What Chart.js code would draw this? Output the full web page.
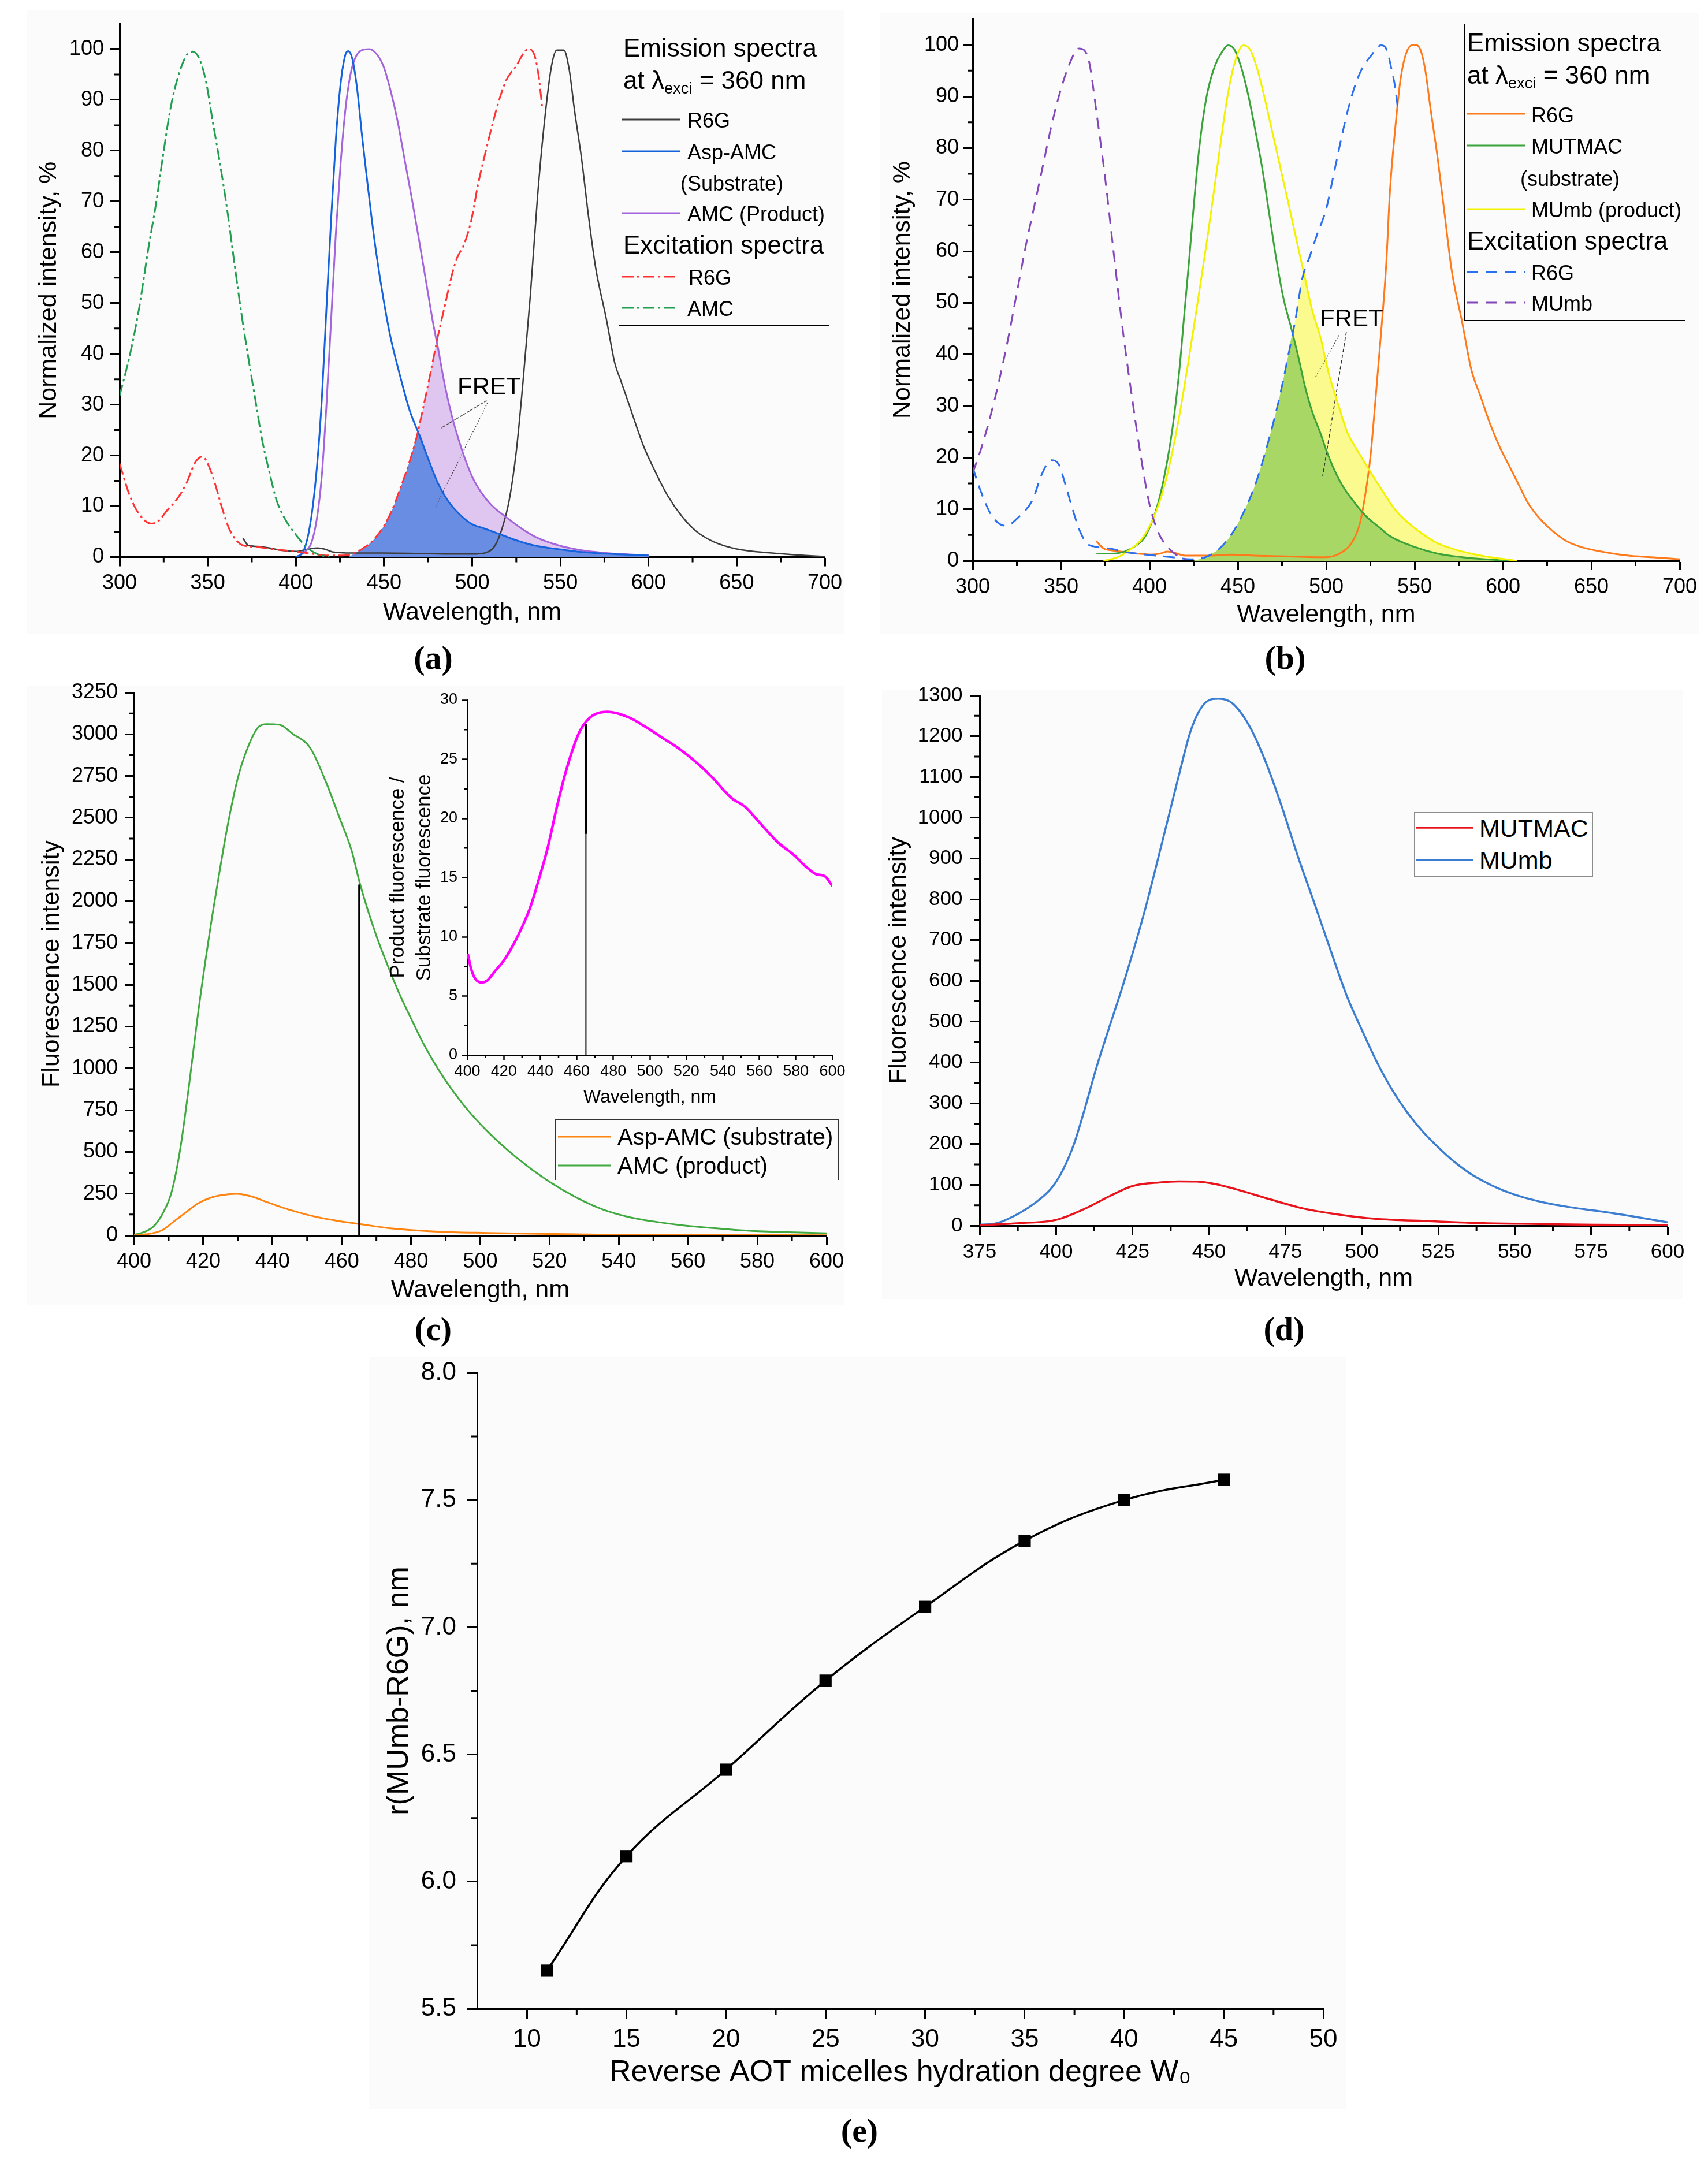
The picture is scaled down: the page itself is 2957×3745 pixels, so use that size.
<!DOCTYPE html>
<html lang="en">
<head>
<meta charset="UTF-8">
<title>FRET spectra and MUmb-R6G distance</title>
<script src="https://cdn.jsdelivr.net/npm/chart.js"></script>
<style>
  body { margin: 0; width: 2957px; height: 3745px; position: relative; overflow: hidden; background: #fff;
         font-family: "Liberation Sans", Arial, sans-serif; color: #000; }
  .bg { position: absolute; background: #fcfbfb; }
  .box { position: absolute; }
  .box canvas { display: block; }
  .txt { position: absolute; white-space: nowrap; line-height: 1; transform: translateY(-50%); }
  .txt sub { font-size: 0.62em; vertical-align: -0.3em; }
  .lbl { position: absolute; white-space: nowrap; line-height: 1; transform: translate(-50%, -50%);
         font-family: "Liberation Serif", "DejaVu Serif", serif; font-weight: bold; font-size: 58px; }
  .rule { position: absolute; background: #000; }
  .frame { position: absolute; box-sizing: border-box; }
  svg.smp { position: absolute; overflow: visible; }
</style>
</head>
<body>

<div class="bg" style="left:47px;top:18px;width:1414px;height:1080px"></div>
<div class="bg" style="left:1523px;top:22px;width:1418px;height:1076px"></div>
<div class="bg" style="left:47px;top:1187px;width:1414px;height:1073px"></div>
<div class="bg" style="left:1527px;top:1195px;width:1387px;height:1054px"></div>
<div class="bg" style="left:638px;top:2350px;width:1693px;height:1302px"></div>

<div class="box" id="boxA"><canvas id="chartA"></canvas></div>
<div class="box" id="boxB"><canvas id="chartB"></canvas></div>
<div class="box" id="boxC"><canvas id="chartC"></canvas></div>
<div class="box" id="boxCi"><canvas id="chartCi"></canvas></div>
<div class="box" id="boxD"><canvas id="chartD"></canvas></div>
<div class="box" id="boxE"><canvas id="chartE"></canvas></div>

<script>
// ---------- tick values ----------
const specTicksX = [300, 350, 400, 450, 500, 550, 600, 650, 700];
const specTicksY = [0, 10, 20, 30, 40, 50, 60, 70, 80, 90, 100];
const cTicksX = [400, 420, 440, 460, 480, 500, 520, 540, 560, 580, 600];
const cTicksY = [0, 250, 500, 750, 1000, 1250, 1500, 1750, 2000, 2250, 2500, 2750, 3000, 3250];
const ciTicksY = [0, 5, 10, 15, 20, 25, 30];
const dTicksX = [375, 400, 425, 450, 475, 500, 525, 550, 575, 600];
const dTicksY = [0, 100, 200, 300, 400, 500, 600, 700, 800, 900, 1000, 1100, 1200, 1300];
const eTicksX = [10, 15, 20, 25, 30, 35, 40, 45, 50];
const eTicksY = [5.5, 6.0, 6.5, 7.0, 7.5, 8.0];

// ---------- (a) Asp-AMC / AMC / R6G ----------
const aR6GemX = [370, 373, 378, 385, 392, 400, 406, 412, 416, 421, 432, 450, 470, 490, 500, 507, 513, 517, 521, 525, 529, 533, 537, 541, 545, 548, 552, 555, 558, 562, 566, 570, 576, 581, 584, 589, 597, 603, 611, 619, 627, 637, 650, 670, 685, 700];
const aR6GemY = [3.7, 2.3, 2.1, 1.8, 1.3, 1.1, 1.5, 1.8, 1.6, 1.0, 0.8, 0.8, 0.7, 0.6, 0.6, 0.8, 2.3, 5.7, 11.2, 20.8, 35.2, 51.6, 70.7, 85.8, 96.7, 99.8, 99.8, 96, 88, 78.5, 67, 57, 47, 38, 35, 30, 22, 17.4, 12, 8, 5.1, 3, 1.6, 0.8, 0.4, 0.1];
const aAspX = [400, 404, 406.6, 409.3, 412, 414.7, 417.3, 420, 422.7, 425.4, 428, 429.7, 432, 434.8, 437.5, 440.2, 443, 445.6, 449.6, 453.6, 459, 464.4, 469.8, 475, 480.5, 486, 492.6, 499.3, 507, 515, 525, 535, 550, 562, 580, 600];
const aAspY = [0, 1, 3.7, 9.2, 18, 31, 48.8, 66.6, 82.4, 93.3, 98.8, 99.6, 98.1, 92, 83, 74.8, 66.6, 59.8, 50.9, 43.4, 35.8, 29, 24.2, 19.4, 14.6, 11.2, 8.5, 6.6, 5.6, 4.6, 3.3, 2.3, 1.5, 1, 0.6, 0.3];
const aAmcX = [400, 405, 409, 412, 414.7, 417.3, 420, 422.7, 425.4, 428, 430.8, 433.5, 437.5, 441.5, 445.6, 449.6, 453.6, 457.7, 461.7, 465.7, 469.8, 473.8, 477.8, 480.5, 484.5, 488.6, 492.6, 496.6, 500.7, 505, 511, 519.5, 527.6, 535.7, 549, 562.6, 576, 589.5, 600];
const aAmcY = [0, 1, 3, 7.8, 16, 29.7, 46.8, 63.9, 77.6, 87.8, 94.7, 98.1, 99.8, 100, 99.1, 96.7, 92, 85.8, 78.2, 70.7, 62.5, 54.3, 46.1, 41.3, 33.8, 27.6, 22.8, 18.7, 15.3, 12.8, 10.2, 7.8, 5.7, 4, 2.3, 1.3, 0.8, 0.5, 0.3];
const aExcR6GX = [300, 306, 311, 318, 322, 327, 333, 338, 343, 347, 350, 354, 358, 362, 366, 370, 378, 386, 394, 402, 410, 418, 426, 432, 437.5, 443, 448, 453.6, 459, 464.4, 468.4, 472.4, 476.5, 480.5, 484.5, 488.6, 491.3, 495.3, 499.3, 503.4, 507.4, 511.4, 515.5, 519.5, 525, 529, 531.6, 535, 537.7, 539.7];
const aExcR6GY = [18.4, 11.9, 8.5, 6.6, 7.1, 9.2, 11.6, 14.6, 18.7, 19.8, 18.4, 14.6, 9.8, 5.7, 3.4, 2.3, 2.0, 1.6, 1.3, 1.0, 0.6, 0.3, 0.3, 0.6, 1.6, 3, 5.1, 8.5, 13.3, 18.7, 23.5, 29.7, 36.5, 43.4, 49.5, 55.7, 58.8, 61.5, 66, 73.5, 79.5, 85.1, 90.2, 94, 96.7, 99.1, 100, 99.1, 94.7, 88.5];
const aExcAmcX = [300, 306, 311, 316.5, 320.6, 324.6, 328.6, 332.7, 338, 341.4, 344.8, 348.8, 352.8, 356.9, 360.9, 364.9, 369, 373, 377, 381, 385, 389, 394.5, 400, 405, 412, 419];
const aExcAmcY = [31.7, 40, 48.8, 61.1, 69.4, 78.9, 87.8, 94, 98.8, 99.5, 98.4, 94, 85.8, 77.6, 68.7, 58.4, 48.2, 39.3, 31, 22.8, 16.7, 11.2, 7.1, 4.4, 2.3, 0.6, 0];
// FRET overlap areas
const aFretBlueX = [430, 437.5, 443, 448, 453.6, 459, 464.4, 468.4, 469.5, 475, 480.5, 486, 492.6, 499.3, 507, 515, 525, 535, 550, 562, 580, 600];
const aFretBlueY = [0, 1.6, 3, 5.1, 8.5, 13.3, 18.7, 23.5, 24.4, 19.4, 14.6, 11.2, 8.5, 6.6, 5.6, 4.6, 3.3, 2.3, 1.5, 1, 0.6, 0.3];
const aFretPurpleX = [430, 437.5, 443, 448, 453.6, 459, 464.4, 468.4, 472.4, 476.5, 480.2, 484.5, 488.6, 492.6, 496.6, 500.7, 505, 511, 519.5, 527.6, 535.7, 549, 562.6, 576, 589.5, 600];
const aFretPurpleY = [0, 1.6, 3, 5.1, 8.5, 13.3, 18.7, 23.5, 29.7, 36.5, 42, 33.8, 27.6, 22.8, 18.7, 15.3, 12.8, 10.2, 7.8, 5.7, 4, 2.3, 1.3, 0.8, 0.5, 0.3];
const aLead1X = [508.2, 482.4], aLead1Y = [30.8, 25.4];
const aLead2X = [508.7, 479.3], aLead2Y = [30.4, 9.9];

// ---------- (b) MUTMAC / MUmb / R6G ----------
const bR6GX = [370, 374, 379, 386, 393, 401, 406, 410, 414, 420, 433, 446, 460, 473, 500, 509, 515, 519, 522, 525, 528, 531, 534, 536, 539, 542, 546, 550, 553, 556, 559, 563, 567, 571, 577, 582, 587.5, 593, 598, 604, 609, 614, 620, 628, 636, 644, 657, 671, 684, 700];
const bR6GY = [3.8, 2.4, 2, 1.7, 1.4, 1.2, 1.4, 1.8, 1.6, 1, 1, 1.2, 1, 0.9, 0.7, 1.7, 3.8, 7.2, 12.6, 20.1, 31.7, 44, 57.7, 71.3, 83.6, 93.2, 99, 100, 99.3, 95.2, 87.7, 78.2, 67.2, 56.3, 46.1, 37.2, 31.7, 26.3, 22.2, 18.1, 14.7, 11.3, 8.5, 5.8, 3.8, 2.7, 1.7, 1, 0.7, 0.3];
const bMutX = [370, 379, 386, 393, 397, 401, 405, 409, 413, 417, 419.6, 422.3, 425, 427.6, 430.3, 433, 437, 441, 444.4, 447.7, 451.7, 455.8, 459.8, 463.8, 467.8, 471.8, 475.8, 480, 484, 488, 492, 497, 500, 504, 509, 516, 523, 530, 536, 550, 563, 577, 590, 604];
const bMutY = [1.4, 1.4, 1.8, 3.1, 4.4, 7.2, 11.3, 17.4, 25.6, 37.2, 47.4, 57.7, 68.6, 78.2, 85.7, 91.1, 95.9, 98.6, 99.9, 99.3, 95.9, 90.4, 83.6, 76.1, 67.2, 58.4, 50.9, 45.4, 39.9, 33.8, 29, 24.5, 21.5, 18.1, 14.7, 11.3, 8.5, 6.5, 4.8, 2.7, 1.4, 0.7, 0.3, 0];
const bMumbX = [374, 382, 390, 395.4, 400.8, 406.2, 411.5, 417, 422.3, 427.6, 433, 438.3, 443.7, 447.7, 453.1, 457.1, 461.1, 465.1, 469.2, 473.2, 478.6, 483.9, 487.9, 491.9, 497, 501.3, 506.7, 512, 517.5, 524, 531, 539, 547, 555, 563, 571, 582, 593, 604, 608];
const bMumbY = [0, 0.7, 2.4, 4.1, 7.2, 11.9, 18.8, 28.3, 39.2, 50.9, 63.1, 76.1, 89.1, 95.9, 99.9, 99, 95.2, 89.8, 83.6, 77.5, 69.3, 61.1, 54.9, 48.8, 43, 36.5, 30.4, 24.9, 21.5, 17.8, 14, 9.9, 7.2, 5.1, 3.4, 2.4, 1.4, 0.7, 0.2, 0];
const bExcR6GX = [300, 304, 310, 315, 319, 326, 334, 339, 344.5, 348.5, 352.5, 356.6, 360.6, 364.6, 370, 379, 386, 393, 403.5, 413, 423.6, 431.6, 439.7, 446.4, 453, 459.8, 466.5, 473.2, 478.6, 482.6, 486.6, 490.7, 494.7, 500, 504, 508, 512, 516, 520, 525.6, 531, 534.3, 537, 539, 540.4];
const bExcR6GY = [18.1, 14, 9.2, 7.2, 6.8, 8.5, 11.9, 16.7, 19.5, 18.8, 14.7, 9.9, 5.8, 3.4, 2.7, 2.3, 1.7, 1.4, 1, 0.7, 0.3, 0.7, 2.4, 5.1, 9.2, 14.7, 22.2, 31.1, 39.9, 46.8, 54.9, 59, 63.1, 68.2, 74.5, 81, 87, 91.8, 95.2, 98, 99.9, 99, 95.2, 91.8, 88];
const bExcMumbX = [300, 305, 310, 315, 320, 325, 330, 335, 340, 345, 350, 355, 360, 363, 366, 370, 375, 380, 385, 390, 395, 400, 405, 410, 415, 420];
const bExcMumbY = [17, 22, 28, 35, 43, 52, 61, 69, 77, 85, 91.5, 96.5, 99.3, 99, 96.5, 87, 74, 59, 44.5, 32, 20.5, 11, 5.5, 2.8, 1.2, 0.3];
const bFretGreenX = [425, 431.6, 439.7, 446.4, 453, 459.8, 466.5, 473.2, 478.6, 480.7, 484, 488, 492, 497, 500, 504, 509, 516, 523, 530, 536, 550, 563, 577, 590, 604];
const bFretGreenY = [0, 0.7, 2.4, 5.1, 9.2, 14.7, 22.2, 31.1, 39.9, 43.5, 39.9, 33.8, 29, 24.5, 21.5, 18.1, 14.7, 11.3, 8.5, 6.5, 4.8, 2.7, 1.4, 0.7, 0.3, 0];
const bFretYellowX = [425, 431.6, 439.7, 446.4, 453, 459.8, 466.5, 473.2, 478.6, 482.6, 486.6, 487.3, 491.9, 497, 501.3, 506.7, 512, 517.5, 524, 531, 539, 547, 555, 563, 571, 582, 593, 604, 608];
const bFretYellowY = [0, 0.7, 2.4, 5.1, 9.2, 14.7, 22.2, 31.1, 39.9, 46.8, 54.9, 55.8, 48.8, 43, 36.5, 30.4, 24.9, 21.5, 17.8, 14, 9.9, 7.2, 5.1, 3.4, 2.4, 1.4, 0.7, 0.2, 0];
const bLead1X = [507.2, 493.8], bLead1Y = [43.7, 35.5];
const bLead2X = [511.4, 498], bLead2Y = [44.4, 16.4];

// ---------- (c) Asp-AMC vs AMC, inset ratio ----------
const cProdX = [400, 403, 405.6, 408.2, 410.8, 413.3, 415.9, 418.5, 421.9, 424.4, 427, 430, 432.1, 435.6, 438.1, 442, 445.8, 450.9, 455.2, 459.5, 462.9, 465.2, 469.7, 473.2, 476.6, 480, 483.4, 489.4, 495.4, 502.2, 510.8, 519.3, 527.9, 535.4, 543.3, 551.2, 559.1, 567.1, 575, 582.9, 590.8, 600];
const cProdY = [4, 21, 53, 128, 256, 511, 900, 1330, 1820, 2140, 2450, 2740, 2880, 3035, 3061, 3057, 3003, 2918, 2726, 2492, 2300, 2109, 1811, 1619, 1448, 1299, 1155, 945, 775, 620, 460, 330, 225, 155, 108, 80, 59, 44, 31, 23, 18, 13];
const cSubX = [400, 404.8, 408.2, 411.6, 415, 418.5, 421.9, 425.3, 429.6, 433.8, 438.1, 442.4, 447.5, 452.6, 459.5, 465.2, 472.3, 480, 489.4, 502.2, 519.3, 533.7, 550, 575, 600];
const cSubY = [0, 11, 32, 85, 138, 192, 224, 241, 249, 234, 202, 170, 138, 111, 85, 68, 47, 32, 21, 15, 9, 5, 4, 2, 1];
const cRatioX = [400.3, 402, 404.4, 407.6, 410.9, 414.9, 419.8, 424.6, 429.5, 434.4, 439.2, 444.1, 448.9, 453.8, 458.7, 461.9, 465.2, 470, 477, 489, 498, 507, 516, 525, 534, 541, 545, 552, 561, 570, 579, 585, 591, 596, 600];
const cRatioY = [8.55, 7.35, 6.45, 6.15, 6.3, 7.05, 7.95, 9.15, 10.65, 12.45, 14.85, 17.55, 20.85, 23.85, 26.25, 27.45, 28.2, 28.8, 29, 28.5, 27.7, 26.8, 25.9, 24.8, 23.5, 22.3, 21.7, 21, 19.5, 18, 16.9, 16, 15.3, 15.1, 14.3];
const cMarkX = [465, 465];
const cMarkMainY = [0, 2100];
const cMarkInsetY = [0, 28];
const cMarkInsetTopY = [18.7, 28];

// ---------- (d) MUTMAC vs MUmb ----------
const dMumbX = [375, 380.7, 387.9, 393.2, 398.6, 402.2, 405.8, 409.3, 412.9, 418.3, 421.9, 429, 434.4, 439.7, 444.2, 448.7, 453.2, 457.6, 463, 468.4, 473.7, 479.1, 484.5, 489.8, 495, 500, 505, 510, 515, 520, 525, 530, 535, 540, 545, 550, 555, 560, 565, 570, 580, 590, 600];
const dMumbY = [2, 6, 30, 56, 93, 136, 199, 284, 380, 507, 590, 772, 931, 1090, 1217, 1281, 1292, 1281, 1228, 1140, 1030, 905, 790, 675, 565, 480, 400, 332, 276, 230, 192, 158, 130, 108, 90, 76, 65, 56, 49, 43, 33, 21, 8];
const dMutX = [375, 388, 400, 409, 418, 425, 434, 440, 446, 452, 459.4, 470.2, 480.9, 491.6, 504, 522, 540, 558, 576, 600];
const dMutY = [1, 6, 14, 40, 74, 97, 106, 108.5, 108, 102, 88, 64, 42, 28, 17, 11, 6, 4, 2, 1];

// ---------- (e) distance vs hydration degree ----------
const eW = [11, 15, 20, 25, 30, 35, 40, 45];
const eR = [5.65, 6.10, 6.44, 6.79, 7.08, 7.34, 7.50, 7.58];

// ---------- helpers ----------
Chart.defaults.font.family = '"Liberation Sans", Arial, sans-serif';
Chart.defaults.color = '#000';

function pts(xs, ys) { return xs.map((x, i) => ({ x: x, y: ys[i] })); }

function curve(xs, ys, color, width, dash, order) {
  return { data: pts(xs, ys), borderColor: color, borderWidth: width, borderDash: dash || [],
           pointRadius: 0, fill: false, cubicInterpolationMode: 'monotone', order: order || 0 };
}
function shade(xs, ys, color, order) {
  return { data: pts(xs, ys), borderWidth: 0, borderColor: color, backgroundColor: color,
           fill: 'origin', pointRadius: 0, cubicInterpolationMode: 'monotone', order: order };
}
function straight(xs, ys, color, width, dash) {
  return { data: pts(xs, ys), borderColor: color, borderWidth: width, borderDash: dash || [],
           pointRadius: 0, fill: false, tension: 0, order: 0 };
}

// short ticks half-way between the labelled ones
const minorTicks = {
  id: 'minorTicks',
  afterDraw(chart) {
    const ctx = chart.ctx;
    Object.values(chart.scales).forEach(s => {
      const m = s.options.minor;
      if (!m) return;
      const v = s.ticks.map(t => t.value);
      ctx.save();
      ctx.strokeStyle = '#000';
      ctx.lineWidth = m.width;
      ctx.beginPath();
      for (let i = 0; i < v.length - 1; i++) {
        const p = s.getPixelForValue((v[i] + v[i + 1]) / 2);
        if (s.isHorizontal()) { ctx.moveTo(p, s.top); ctx.lineTo(p, s.top + m.len); }
        else { ctx.moveTo(s.right, p); ctx.lineTo(s.right - m.len, p); }
      }
      ctx.stroke();
      ctx.restore();
    });
  }
};

function axis(p, s, horizontal) {
  const titleFont = s.titleFont || p.titleFont;
  const titleLh = s.titleLh || titleFont * 1.2;
  const tickLh = p.tickFont * 1.2;
  const o = {
    type: 'linear', position: horizontal ? 'bottom' : 'left', min: s.min, max: s.max,
    afterBuildTicks: sc => { sc.ticks = s.ticks.map(v => ({ value: v })); },
    grid: { display: true, drawOnChartArea: false, drawTicks: true, tickLength: p.tickLen,
            tickWidth: p.axisW, tickColor: '#000' },
    border: { display: true, color: '#000', width: p.axisW },
    ticks: { autoSkip: false, maxRotation: 0, color: '#000', font: { size: p.tickFont },
             callback: s.fmt || (v => String(v)) },
    title: { display: true, text: s.title, color: '#000',
             font: { size: titleFont, lineHeight: titleLh / titleFont } },
    minor: { len: p.minorLen, width: p.axisW }
  };
  if (horizontal) {
    o.afterFit = sc => { sc.height = p.mb; sc.paddingLeft = 0; sc.paddingRight = 0; };
    o.ticks.padding = p.xGap - p.tickLen - tickLh / 2;
    o.title.padding = { top: 0, bottom: p.area.b + p.mb - titleLh / 2 - p.xTitleY };
  } else {
    o.afterFit = sc => { sc.width = p.ml; sc.paddingTop = 0; sc.paddingBottom = 0; };
    o.ticks.padding = p.yGap - p.tickLen;
    o.title.padding = { top: p.yTitleX - (p.area.l - p.ml) - titleLh / 2, bottom: 0 };
  }
  return o;
}

function makeChart(boxId, p, datasets) {
  const box = document.getElementById(boxId);
  box.style.left = (p.area.l - p.ml) + 'px';
  box.style.top = (p.area.t - p.mt) + 'px';
  box.style.width = (p.area.r - p.area.l + p.ml + p.mr) + 'px';
  box.style.height = (p.area.b - p.area.t + p.mt + p.mb) + 'px';
  return new Chart(box.querySelector('canvas'), {
    type: 'line',
    data: { datasets: datasets },
    options: {
      responsive: true, maintainAspectRatio: false, animation: false, events: [],
      layout: { padding: { left: 0, top: p.mt, right: p.mr, bottom: 0 } },
      plugins: { legend: { display: false }, tooltip: { enabled: false } },
      scales: { x: axis(p, p.x, true), y: axis(p, p.y, false) }
    },
    plugins: [minorTicks]
  });
}

const dashDot = [20, 6, 4, 6];
const dashed = [20, 13];

// ---------- (a) ----------
makeChart('boxA', {
  area: { l: 207, t: 40.5, r: 1428, b: 964 }, ml: 167, mt: 20, mr: 40, mb: 130,
  tickFont: 36, titleFont: 43, tickLen: 16, minorLen: 9, axisW: 3,
  xGap: 46, yGap: 27, yTitleX: 85, xTitleY: 1061,
  x: { min: 300, max: 700, ticks: specTicksX, title: 'Wavelength, nm' },
  y: { min: 0, max: 105, ticks: specTicksY, title: 'Normalized intensity, %' }
}, [
  curve(aExcAmcX, aExcAmcY, '#1f9f4f', 3, dashDot),
  curve(aExcR6GX, aExcR6GY, '#ff3333', 3, dashDot),
  curve(aAspX, aAspY, '#1462dc', 3),
  curve(aAmcX, aAmcY, '#a464dc', 3),
  curve(aR6GemX, aR6GemY, '#3c3c3c', 2.5),
  straight(aLead1X, aLead1Y, '#444', 1.5, [5, 2]),
  straight(aLead2X, aLead2Y, '#444', 1.5, [2, 3]),
  shade(aFretBlueX, aFretBlueY, '#6a8de4', 19),
  shade(aFretPurpleX, aFretPurpleY, '#dfc6f1', 20)
]);

// ---------- (b) ----------
makeChart('boxB', {
  area: { l: 1684, t: 33, r: 2908, b: 971 }, ml: 154, mt: 20, mr: 30, mb: 130,
  tickFont: 36, titleFont: 43, tickLen: 16, minorLen: 9, axisW: 3,
  xGap: 46, yGap: 24, yTitleX: 1563.5, xTitleY: 1065,
  x: { min: 300, max: 700, ticks: specTicksX, title: 'Wavelength, nm' },
  y: { min: 0, max: 105, ticks: specTicksY, title: 'Normalized intensity, %' }
}, [
  curve(bExcMumbX, bExcMumbY, '#8447bb', 3, dashed),
  curve(bExcR6GX, bExcR6GY, '#2a6ff0', 3, dashed),
  curve(bMumbX, bMumbY, '#f2f200', 3),
  curve(bMutX, bMutY, '#3aa33a', 3),
  curve(bR6GX, bR6GY, '#ff7a1a', 3),
  straight(bLead1X, bLead1Y, '#444', 1.5, [2, 3]),
  straight(bLead2X, bLead2Y, '#333', 1.5, [6, 4]),
  shade(bFretGreenX, bFretGreenY, '#a8d766', 19),
  shade(bFretYellowX, bFretYellowY, '#fafa8e', 20)
]);

// ---------- (c) main ----------
makeChart('boxC', {
  area: { l: 232, t: 1199, r: 1431, b: 2139 }, ml: 180, mt: 20, mr: 30, mb: 130,
  tickFont: 36, titleFont: 43, tickLen: 16, minorLen: 9, axisW: 3,
  xGap: 46, yGap: 28, yTitleX: 90, xTitleY: 2234,
  x: { min: 400, max: 600, ticks: cTicksX, title: 'Wavelength, nm' },
  y: { min: 0, max: 3250, ticks: cTicksY, title: 'Fluorescence intensity' }
}, [
  straight(cMarkX, cMarkMainY, '#000', 3),
  curve(cSubX, cSubY, '#ff8410', 3),
  curve(cProdX, cProdY, '#40aa40', 3)
]);

// ---------- (c) inset ----------
makeChart('boxCi', {
  area: { l: 809, t: 1212, r: 1441, b: 1827 }, ml: 149, mt: 20, mr: 25, mb: 100,
  tickFont: 27, titleFont: 35, tickLen: 9, minorLen: 5, axisW: 2.5,
  xGap: 29, yGap: 17, yTitleX: 689, xTitleY: 1900,
  x: { min: 400, max: 600, ticks: cTicksX, title: 'Wavelength, nm', titleFont: 32 },
  y: { min: 0, max: 30, ticks: ciTicksY, title: ['Product fluorescence /', 'Substrate fluorescence'], titleLh: 46 }
}, [
  straight(cMarkX, cMarkInsetTopY, '#000', 3.5),
  straight(cMarkX, cMarkInsetY, '#000', 2),
  curve(cRatioX, cRatioY, '#ff00ff', 4.5)
]);

// ---------- (d) ----------
makeChart('boxD', {
  area: { l: 1696, t: 1204, r: 2887, b: 2122 }, ml: 176, mt: 20, mr: 30, mb: 120,
  tickFont: 35, titleFont: 43, tickLen: 16, minorLen: 9, axisW: 3,
  xGap: 46, yGap: 29.5, yTitleX: 1556, xTitleY: 2214,
  x: { min: 375, max: 600, ticks: dTicksX, title: 'Wavelength, nm' },
  y: { min: 0, max: 1300, ticks: dTicksY, title: 'Fluorescence intensity' }
}, [
  curve(dMutX, dMutY, '#e8141c', 3.5),
  curve(dMumbX, dMumbY, '#3b7dd0', 3.5)
]);

// ---------- (e) ----------
makeChart('boxE', {
  area: { l: 826, t: 2377, r: 2291, b: 3478 }, ml: 186, mt: 25, mr: 50, mb: 150,
  tickFont: 44, titleFont: 52, tickLen: 18, minorLen: 10, axisW: 3,
  xGap: 54, yGap: 36, yTitleX: 692, xTitleY: 3589,
  x: { min: 7.5, max: 50, ticks: eTicksX, title: 'Reverse AOT micelles hydration degree W\u2080' },
  y: { min: 5.5, max: 8.0, ticks: eTicksY, title: 'r(MUmb-R6G), nm', fmt: v => v.toFixed(1) }
}, [
  { data: pts(eW, eR), borderColor: '#000', borderWidth: 3.5, tension: 0.4,
    pointStyle: 'rect', pointRadius: 15, pointBackgroundColor: '#000', pointBorderColor: '#000',
    pointBorderWidth: 0, fill: false, clip: false }
]);

// ---------- legends, notes, panel letters ----------
function put(html, x, y, size, cls) {
  const d = document.createElement('div');
  d.className = cls || 'txt';
  d.style.left = x + 'px';
  d.style.top = y + 'px';
  if (size) d.style.fontSize = size + 'px';
  d.innerHTML = html;
  document.body.appendChild(d);
}
function sample(x1, x2, y, color, width, dash) {
  const ns = 'http://www.w3.org/2000/svg';
  const svg = document.createElementNS(ns, 'svg');
  svg.setAttribute('class', 'smp');
  svg.setAttribute('width', x2 - x1);
  svg.setAttribute('height', 10);
  svg.style.left = x1 + 'px';
  svg.style.top = (y - 5) + 'px';
  const ln = document.createElementNS(ns, 'line');
  ln.setAttribute('x1', 0); ln.setAttribute('x2', x2 - x1);
  ln.setAttribute('y1', 5); ln.setAttribute('y2', 5);
  ln.setAttribute('stroke', color);
  ln.setAttribute('stroke-width', width);
  if (dash) ln.setAttribute('stroke-dasharray', dash.join(' '));
  svg.appendChild(ln);
  document.body.appendChild(svg);
}
function rule(x, y, w, h) {
  const d = document.createElement('div');
  d.className = 'rule';
  d.style.left = x + 'px'; d.style.top = y + 'px';
  d.style.width = w + 'px'; d.style.height = h + 'px';
  document.body.appendChild(d);
}
function frame(x, y, w, h, css) {
  const d = document.createElement('div');
  d.className = 'frame';
  d.style.cssText = `left:${x}px;top:${y}px;width:${w}px;height:${h}px;` + css;
  document.body.appendChild(d);
}

// (a) legend
put('Emission spectra', 1079, 83, 44);
put('at &lambda;<sub>exci</sub> = 360 nm', 1079, 142, 44);
sample(1077, 1177, 207, '#3c3c3c', 3); put('R6G', 1190, 209, 36);
sample(1077, 1177, 262, '#1462dc', 3); put('Asp-AMC', 1190, 264, 36);
put('(Substrate)', 1178, 318, 36);
sample(1077, 1177, 369, '#a464dc', 3); put('AMC (Product)', 1190, 371, 36);
put('Excitation spectra', 1079, 424, 44);
sample(1077, 1169, 479, '#ff3333', 3, dashDot); put('R6G', 1192, 481, 36);
sample(1077, 1169, 533, '#1f9f4f', 3, dashDot); put('AMC', 1190, 535, 36);
rule(1071, 563, 365, 2);
put('FRET', 792, 669, 42);

// (b) legend
rule(2534, 42, 2, 513);
rule(2534, 554, 384, 2);
put('Emission spectra', 2540, 74, 44);
put('at &lambda;<sub>exci</sub> = 360 nm', 2540, 133, 44);
sample(2539, 2640, 197, '#ff7a1a', 3); put('R6G', 2651, 200, 36);
sample(2539, 2640, 252, '#3aa33a', 3); put('MUTMAC', 2651, 254, 36);
put('(substrate)', 2632, 310, 36);
sample(2539, 2640, 362, '#f2f200', 3); put('MUmb (product)', 2651, 364, 36);
put('Excitation spectra', 2540, 417, 44);
sample(2539, 2640, 471, '#2a6ff0', 3, dashed); put('R6G', 2651, 473, 36);
sample(2539, 2640, 524, '#8447bb', 3, dashed); put('MUmb', 2651, 526, 36);
put('FRET', 2285, 551, 42);

// (c) legend
frame(961, 1938, 491, 105, 'border:2px solid #333;border-bottom:none;');
sample(966, 1058, 1968, '#ff8410', 3); put('Asp-AMC (substrate)', 1069, 1968, 40);
sample(966, 1058, 2018, '#40aa40', 3); put('AMC (product)', 1069, 2018, 40);

// (d) legend
frame(2448, 1406, 310, 112, 'border:2px solid #8c8c8c;background:#fff;');
sample(2452, 2550, 1433, '#e8141c', 3.5); put('MUTMAC', 2561, 1434, 43);
sample(2452, 2550, 1489, '#3b7dd0', 3.5); put('MUmb', 2561, 1489, 43);

// panel letters
put('(a)', 750, 1139, 0, 'lbl');
put('(b)', 2225, 1139, 0, 'lbl');
put('(c)', 750, 2301, 0, 'lbl');
put('(d)', 2223, 2301, 0, 'lbl');
put('(e)', 1488, 3689, 0, 'lbl');
</script>
</body>
</html>
